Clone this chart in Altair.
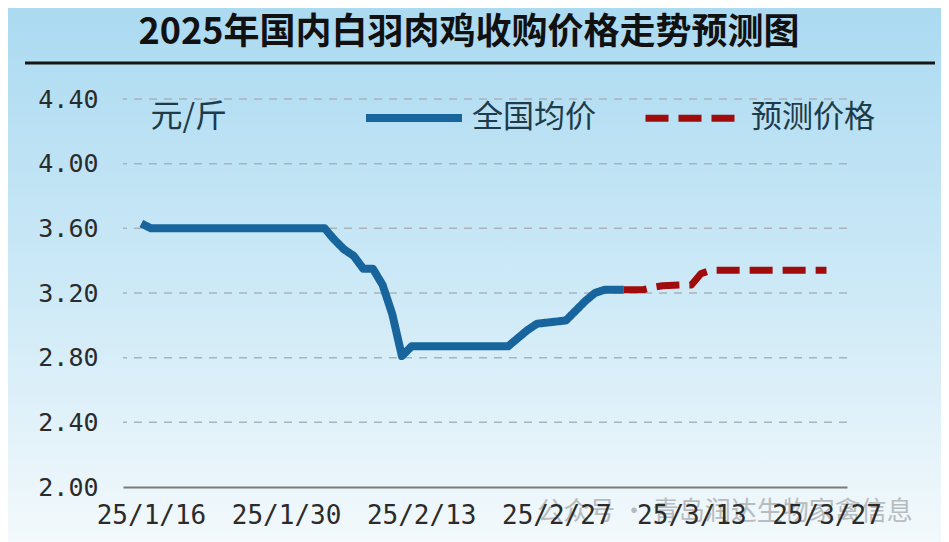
import altair as alt
import pandas as pd

# ---- data ----
blue_dates = ["2025-01-15", "2025-01-16", "2025-02-03", "2025-02-04", "2025-02-05",
              "2025-02-06", "2025-02-07", "2025-02-08", "2025-02-09", "2025-02-10",
              "2025-02-11", "2025-02-12", "2025-02-22", "2025-02-23", "2025-02-24",
              "2025-02-25", "2025-02-28", "2025-03-01", "2025-03-02", "2025-03-03",
              "2025-03-04", "2025-03-06"]
blue_values = [3.63, 3.60, 3.60, 3.53, 3.47,
               3.43, 3.35, 3.35, 3.25, 3.07,
               2.81, 2.87, 2.87, 2.92, 2.97,
               3.01, 3.03, 3.09, 3.15, 3.20,
               3.22, 3.22]

red_dates = ["2025-03-06", "2025-03-08", "2025-03-09", "2025-03-10", "2025-03-12",
             "2025-03-13", "2025-03-14", "2025-03-15", "2025-03-27"]
red_values = [3.22, 3.22, 3.235, 3.245, 3.25,
              3.25, 3.32, 3.34, 3.34]

series_names = ["全国均价", "预测价格"]
y_ticks = [2.00, 2.40, 2.80, 3.20, 3.60, 4.00, 4.40]
x_ticks = [(1, 16), (1, 30), (2, 13), (2, 27), (3, 13), (3, 27)]

title_text = "2025年国内白羽肉鸡收购价格走势预测图"
unit_text = "元/斤"
watermark_text = "公众号 · 青岛润达生物家禽信息"

# ---- styling ----
BLUE = "#17659c"
RED = "#a00b0b"
TEXT = "#1d3b49"
W, H = 724, 388
PAD = {"left": 115, "top": 91, "right": 94, "bottom": 55}
CJK = "Noto Sans CJK SC"
MONO = "DejaVu Sans Mono"

df = pd.concat([
    pd.DataFrame({"date": blue_dates, "price": blue_values, "series": series_names[0]}),
    pd.DataFrame({"date": red_dates, "price": red_values, "series": series_names[1]}),
], ignore_index=True)
df["date"] = pd.to_datetime(df["date"])

y_scale = alt.Scale(domain=[2.0, 4.4], nice=False, zero=False)
x_scale = alt.Scale(domain=[alt.DateTime(year=2025, month=1, date=13, hours=2, minutes=24),
                            alt.DateTime(year=2025, month=3, date=29, hours=3)])

y_axis = alt.Axis(values=y_ticks, format=".2f", domain=False, ticks=False, grid=False,
                  labelFont=MONO, labelFontSize=25, labelColor="#2b2b2b", labelPadding=25,
                  title=unit_text, titleAngle=0, titleX=27, titleY=17, titleAlign="left",
                  titleBaseline="middle", titleFont=CJK, titleFontSize=32,
                  titleFontWeight="normal", titleColor=TEXT, zindex=1)
x_axis = alt.Axis(values=[alt.DateTime(year=2025, month=m, date=d) for m, d in x_ticks],
                  format="%y/%-m/%-d", domain=True, domainColor="#7b7b7b", domainWidth=2,
                  ticks=False, grid=False, labelFont=MONO, labelFontSize=26,
                  labelColor="#2b2b2b", labelPadding=15, labelOverlap=False,
                  labelFlush=False, title=None, zindex=1)

one = pd.DataFrame({"k": [0]})

background = alt.Chart(one).mark_rect(
    fill={"gradient": "linear", "x1": 0, "y1": 0, "x2": 0, "y2": 1,
          "stops": [{"offset": 0, "color": "#abdaf1"},
                    {"offset": 0.55, "color": "#cfeaf7"},
                    {"offset": 1, "color": "#f3f9fc"}]}
).encode(x=alt.value(-PAD["left"]), x2=alt.value(W + PAD["right"]),
         y=alt.value(-PAD["top"]), y2=alt.value(H + PAD["bottom"]))

title_mark = alt.Chart(one).mark_text(
    text=title_text, font=CJK, fontSize=36, fontWeight="bold", color="#111111",
    align="center", baseline="middle"
).encode(x=alt.value(346), y=alt.value(-66))

title_rule = alt.Chart(one).mark_rule(color="#151515", strokeWidth=3).encode(
    x=alt.value(-98), x2=alt.value(812), y=alt.value(-36))

grid = alt.Chart(pd.DataFrame({"v": y_ticks[1:]})).mark_rule(
    color="#a9b3ba", strokeWidth=1.5, strokeDash=[8, 7]
).encode(y=alt.Y("v:Q", scale=y_scale, axis=y_axis))

legend_opts = dict(orient="none", legendX=239, legendY=-33, direction="horizontal",
                   title=None, symbolType="stroke", symbolSize=96 * 96,
                   symbolStrokeWidth=8, labelFont=CJK, labelFontSize=31,
                   labelColor=TEXT, labelOffset=6, columnPadding=35, padding=0)

lines = alt.Chart(df).mark_line(strokeJoin="round").encode(
    x=alt.X("date:T", scale=x_scale, axis=x_axis),
    y=alt.Y("price:Q", scale=y_scale, axis=y_axis),
    color=alt.Color("series:N", scale=alt.Scale(domain=series_names, range=[BLUE, RED]),
                    legend=alt.Legend(**legend_opts)),
    strokeDash=alt.StrokeDash("series:N",
                              scale=alt.Scale(domain=series_names, range=[[1, 0], [23, 10]]),
                              legend=alt.Legend(**legend_opts)),
    strokeWidth=alt.StrokeWidth("series:N",
                                scale=alt.Scale(domain=series_names, range=[8, 7]),
                                legend=None),
    order=alt.Order("date:T"),
)

watermark = alt.Chart(one).mark_text(
    text=watermark_text, font=CJK, fontSize=26, color="#9c9c9c", opacity=0.65,
    align="center", baseline="middle"
).encode(x=alt.value(602), y=alt.value(413))

chart = alt.layer(background, title_mark, title_rule, grid, lines, watermark).properties(
    width=W, height=H, padding=PAD, autosize=alt.AutoSizeParams(type="none")
).configure_view(stroke=None)

chart.save("out.html", embed_options={"renderer": "svg", "actions": False})
